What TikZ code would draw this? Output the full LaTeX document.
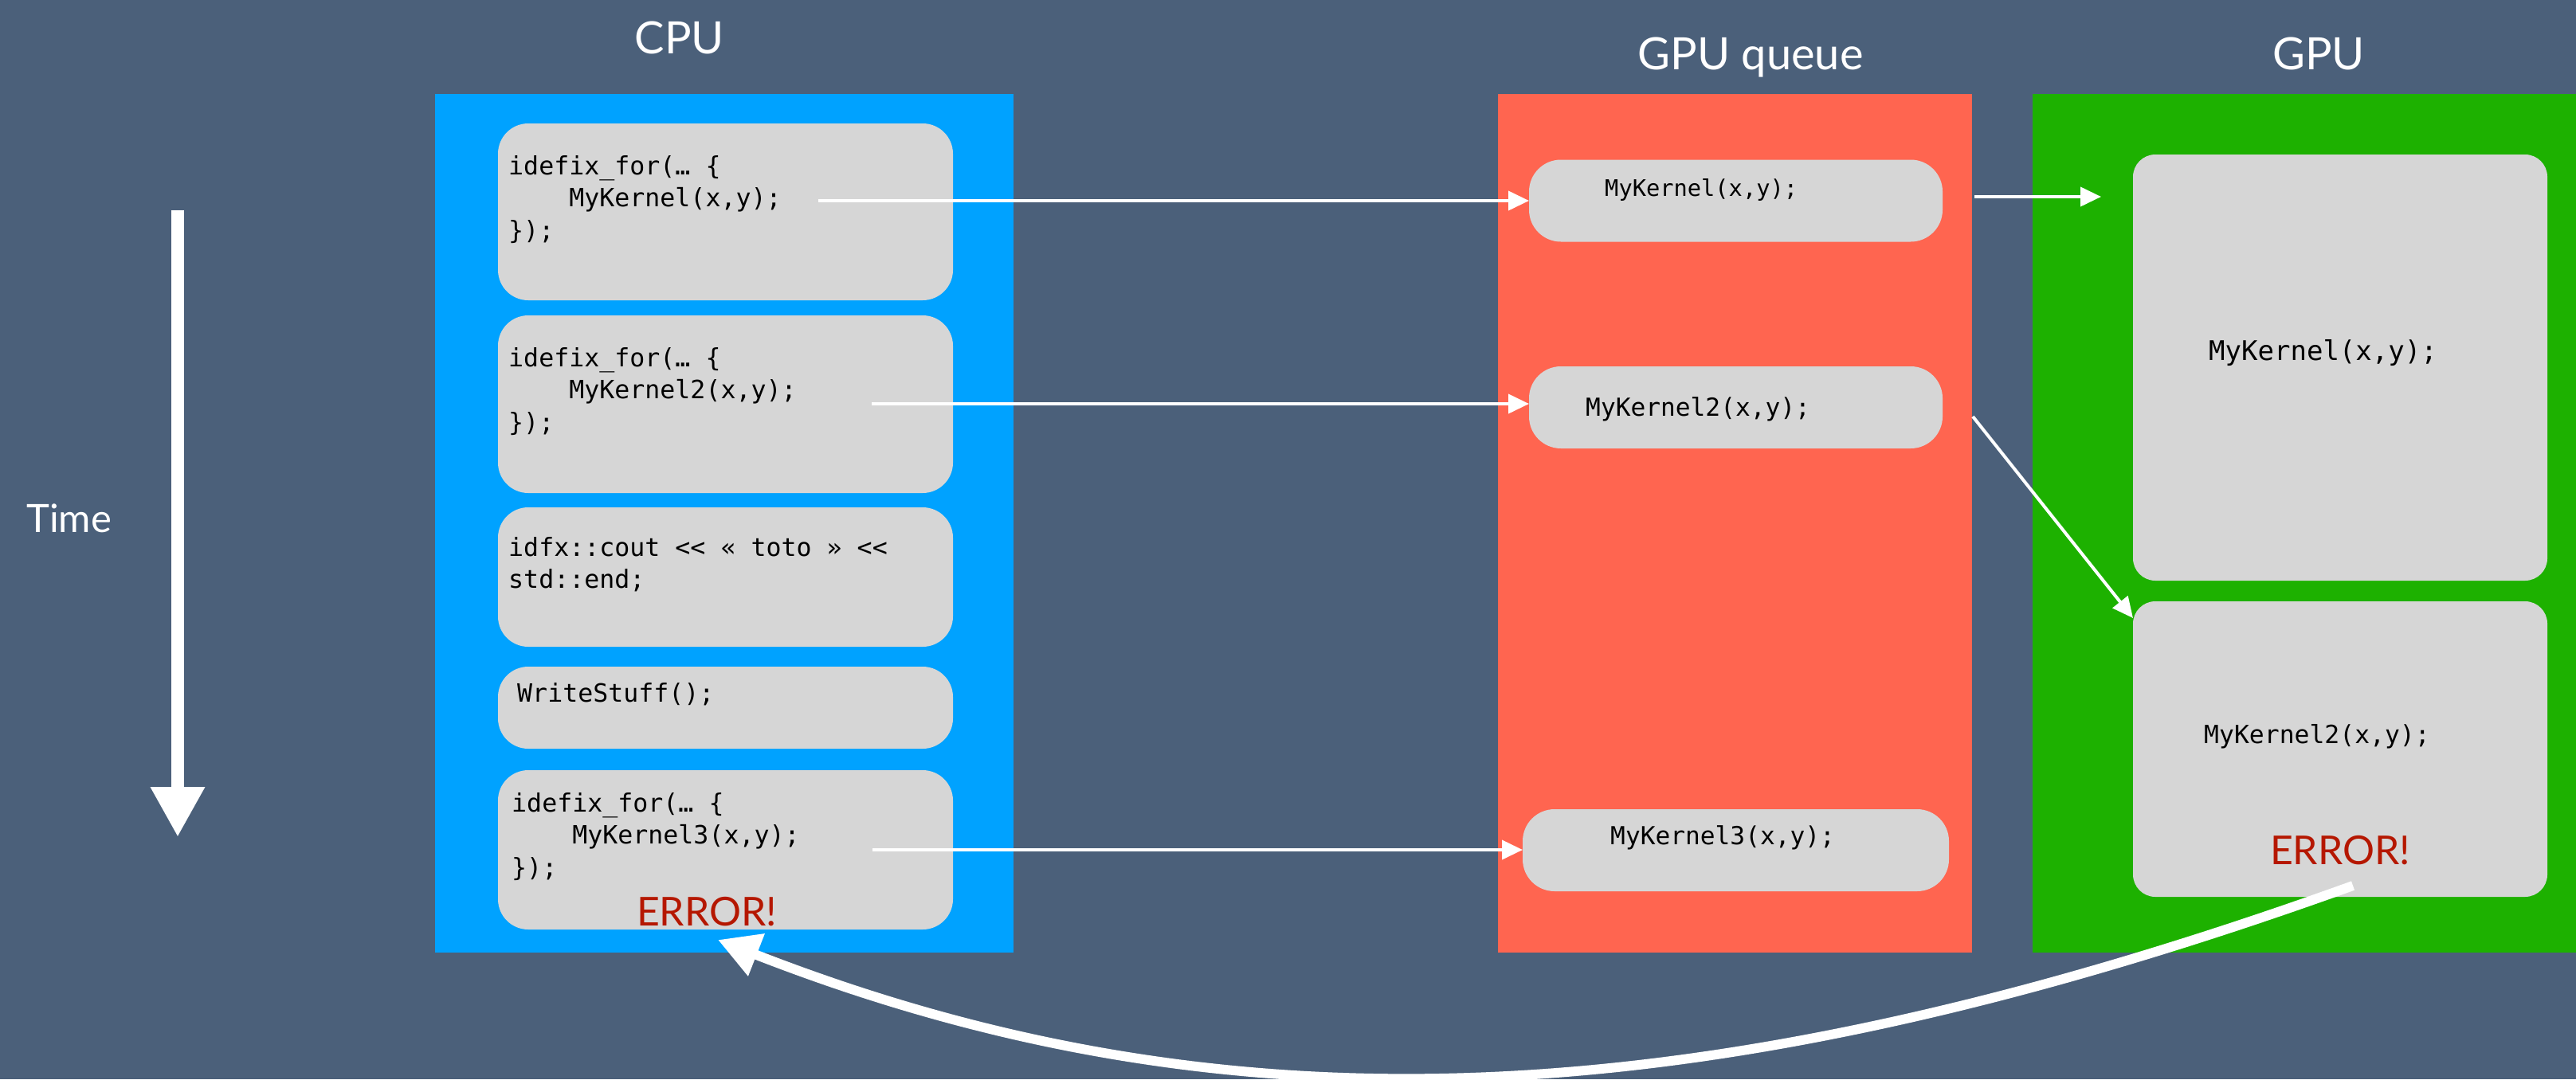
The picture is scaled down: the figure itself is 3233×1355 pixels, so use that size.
\documentclass[tikz,border=0pt]{standalone}
\usepackage{fontspec}
\usepackage{xcolor}
\usepackage{tikz}
\usetikzlibrary{arrows.meta, positioning, calc}
\setmainfont{Lato}
\newfontfamily\codefont{DejaVu Sans Mono}

\definecolor{slate}{RGB}{75,96,122}
\definecolor{cpublue}{RGB}{0,162,255}
\definecolor{queuered}{RGB}{255,101,80}
\definecolor{gpugreen}{RGB}{29,177,0}
\definecolor{boxgray}{RGB}{214,214,214}
\definecolor{errred}{RGB}{181,23,0}

\begin{document}
\begin{tikzpicture}[x=1pt, y=-1pt,
    panel/.style={fill=#1, inner sep=0, outer sep=0},
    cbox/.style={fill=boxgray, rounded corners=38pt, inner sep=0, outer sep=0, minimum width=571pt},
    qbox/.style={fill=boxgray, rounded corners=40pt, inner sep=0, outer sep=0, minimum height=103pt},
    gbox/.style={fill=boxgray, rounded corners=28pt, inner sep=0, outer sep=0, minimum width=520pt},
    code/.style={anchor=base west, inner sep=0, text=black, font=\codefont\fontsize{#1}{40.5}\selectfont},
    title/.style={anchor=base, inner sep=0, text=white, font=\fontsize{56}{60}\selectfont},
    err/.style={anchor=base, inner sep=0, text=errred, font=\fontsize{50}{60}\selectfont},
    flow/.style={draw=white, line width=4pt, -{Triangle[length=26pt,width=24pt]}},
]
    % Sfondo
    \useasboundingbox[fill=slate] (0,0) rectangle (3233,1355);

    % Colonne
    \node[panel=cpublue, minimum width=726pt, minimum height=1078pt] (cpu) at (909,657) {};
    \node[panel=queuered, minimum width=595pt, minimum height=1078pt] (queue) at (2177.5,657) {};
    \node[panel=gpugreen, minimum width=682pt, minimum height=1078pt] (gpu) at (2892,657) {};

    \node[title] (cputitle) at (853,67) {CPU};
    \node[title] (queuetitle) at (2197,87) {GPU queue};
    \node[title] (gputitle) at (2910,87) {GPU};

    % Asse del tempo
    \node[title, anchor=base west, font=\fontsize{49}{55}\selectfont] (time) at (33,668) {Time};
    \coordinate (ttop) at (223,264);
    \coordinate (tbot) at (223,1051);
    \draw[white, line width=16pt, -{Triangle[length=63pt,width=64pt]}] (ttop) -- (tbot);

    % Codice CPU
    \node[cbox, minimum height=222pt] (b1) at (910.5,266) {};
    \node[cbox, minimum height=223pt] (b2) at (910.5,507.5) {};
    \node[cbox, minimum height=175pt] (b3) at (910.5,724.5) {};
    \node[cbox, minimum height=103pt] (b4) at (910.5,888.5) {};
    \node[cbox, minimum height=200pt] (b5) at (910.5,1067) {};

    \node[code=31.6] (b1code) at (638,219) {\begin{tabular}[t]{@{}l@{}}idefix\_for(… \{\\\hphantom{0000}MyKernel(x,y);\\\});\end{tabular}};
    \node[code=31.6] (b2code) at (638,460) {\begin{tabular}[t]{@{}l@{}}idefix\_for(… \{\\\hphantom{0000}MyKernel2(x,y);\\\});\end{tabular}};
    \node[code=31.6] (b3code) at (638,698) {\begin{tabular}[t]{@{}l@{}}idfx::cout << « toto » <<\\std::end;\end{tabular}};
    \node[code=31.6] (b4code) at (649,881) {WriteStuff();};
    \node[code=31.6] (b5code) at (642,1019) {\begin{tabular}[t]{@{}l@{}}idefix\_for(… \{\\\hphantom{0000}MyKernel3(x,y);\\\});\end{tabular}};
    \node[err] (cpuerr) at (887,1162) {ERROR!};

    % Coda GPU
    \node[qbox, minimum width=519pt] (q1) at (2178.5,252) {};
    \node[qbox, minimum width=519pt] (q2) at (2178.5,511.5) {};
    \node[qbox, minimum width=535pt] (q3) at (2178.5,1067.5) {};
    \node[code=28.7] (q1code) at (2014,246) {MyKernel(x,y);};
    \node[code=31.2] (q2code) at (1990,522) {MyKernel2(x,y);};
    \node[code=31.2] (q3code) at (2021,1060) {MyKernel3(x,y);};

    % GPU
    \node[gbox, minimum height=535pt] (g1) at (2937,461.5) {};
    \node[gbox, minimum height=371pt] (g2) at (2937,940.5) {};
    \node[code=34] (g1code) at (2772,452) {MyKernel(x,y);};
    \node[code=31.4] (g2code) at (2766,933) {MyKernel2(x,y);};
    \node[err] (gpuerr) at (2937,1085) {ERROR!};

    % Frecce di lancio
    \coordinate (k1) at (1027,252);
    \coordinate (k2) at (1094,507);
    \coordinate (k3) at (1095,1067);
    \draw[flow] (k1) -- (k1 -| q1.west);
    \draw[flow] (k2) -- (k2 -| q2.west);
    \draw[flow] (k3) -- (k3 -| q3.west);

    \coordinate (qout) at (2478,247);
    \coordinate (gin) at (2637,247);
    \draw[flow] (qout) -- (gin);
    \coordinate (dstart) at (2476,523);
    \coordinate (dend) at (2677,776);
    \draw[flow] (dstart) -- (dend);

    % Errore che torna alla CPU
    \coordinate (bstart) at (2953,1112);
    \coordinate (bend) at (901,1180);
    \draw[white, line width=12pt, -{Triangle[length=52pt,width=54pt]}] (bstart) .. controls (2121,1412) and (1528,1425) .. (bend);
\end{tikzpicture}
\end{document}
